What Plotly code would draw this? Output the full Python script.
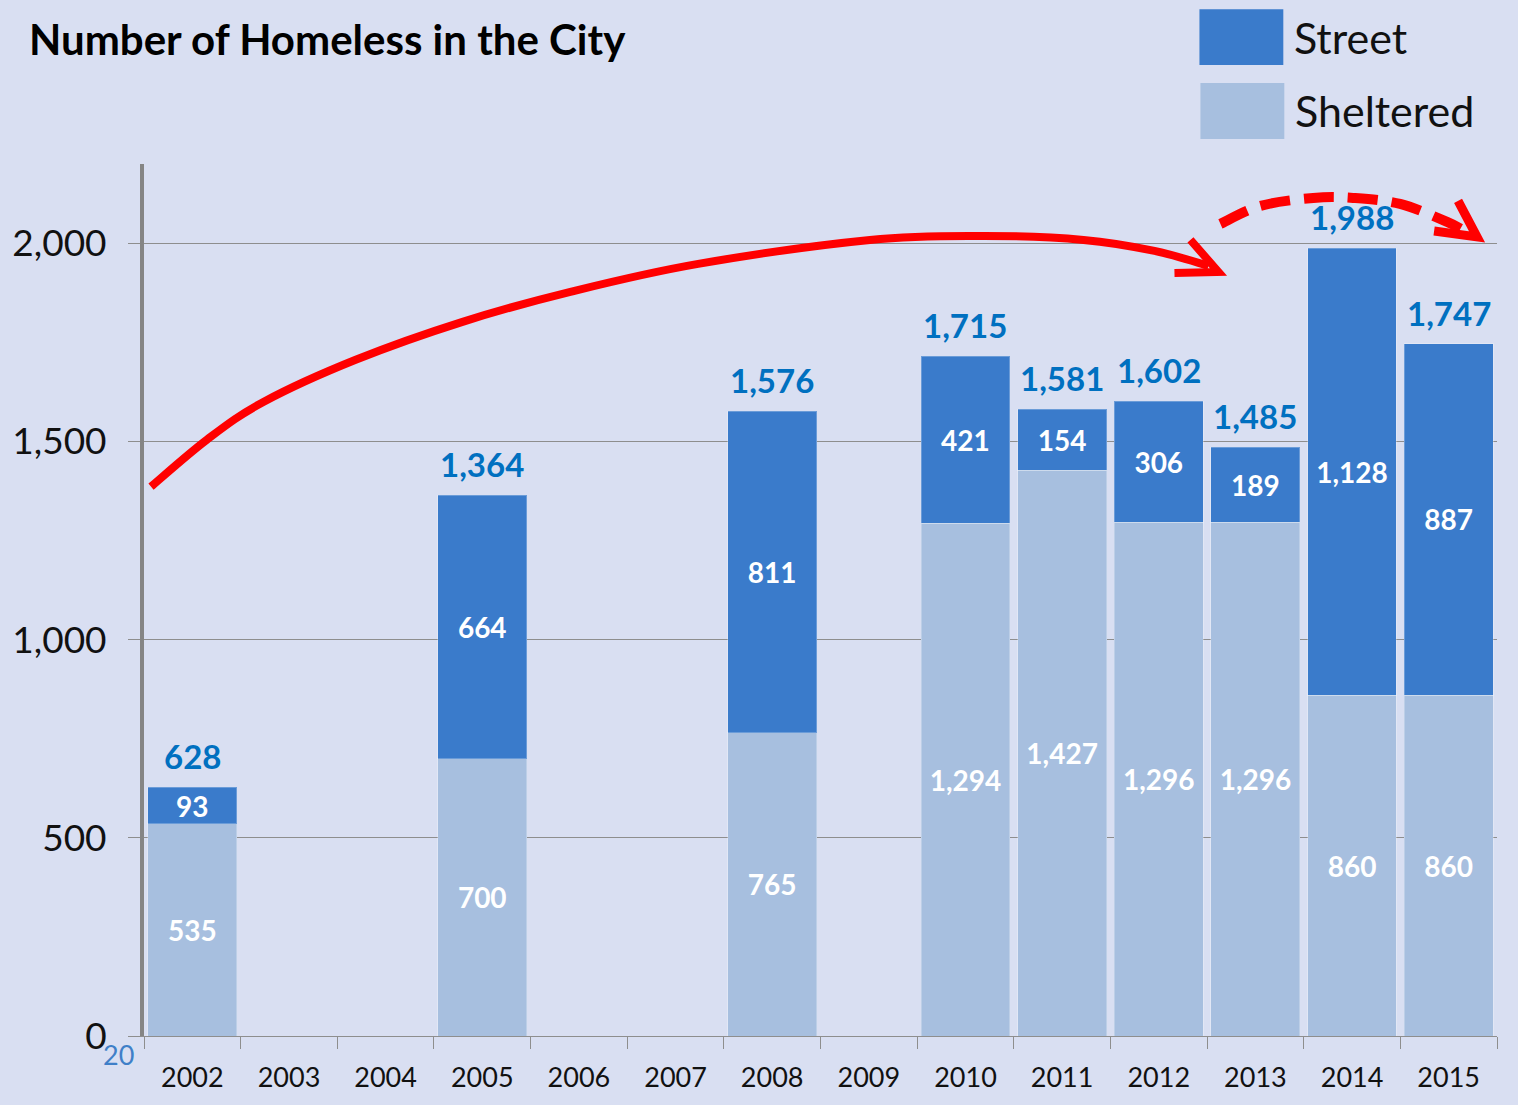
import plotly.graph_objects as go

# ---------------- data ----------------
years = ["2002", "2003", "2004", "2005", "2006", "2007", "2008",
         "2009", "2010", "2011", "2012", "2013", "2014", "2015"]
sheltered = [535, None, None, 700, None, None, 765, None, 1294, 1427, 1296, 1296, 860, 860]
street = [93, None, None, 664, None, None, 811, None, 421, 154, 306, 189, 1128, 887]
y_ticks = [0, 500, 1000, 1500, 2000]

# ---------------- styles ----------------
BG = "#D9DFF2"
STREET_C = "#3A7BCB"
SHELT_C = "#A7BFDF"
TOTAL_C = "#0070C0"
GRID_C = "#8E8E8E"
FONT = "Lato, 'Open Sans', sans-serif"

W, H = 1518, 1105
L, R, T, B = 142, 21, 164, 68
PW, PH = W - L - R, H - T - B


def px(x):
    return (x - L) / PW


def py(y):
    return (H - B - y) / PH


def smooth_path(pts):
    P = [(px(x), py(y)) for x, y in pts]
    d = f"M {P[0][0]:.5f},{P[0][1]:.5f}"
    for i in range(len(P) - 1):
        p0 = P[i - 1] if i > 0 else P[i]
        p1, p2 = P[i], P[i + 1]
        p3 = P[i + 2] if i + 2 < len(P) else P[i + 1]
        c1 = (p1[0] + (p2[0] - p0[0]) / 6, p1[1] + (p2[1] - p0[1]) / 6)
        c2 = (p2[0] - (p3[0] - p1[0]) / 6, p2[1] - (p3[1] - p1[1]) / 6)
        d += f" C {c1[0]:.5f},{c1[1]:.5f} {c2[0]:.5f},{c2[1]:.5f} {p2[0]:.5f},{p2[1]:.5f}"
    return d


def poly_path(pts):
    P = [(px(x), py(y)) for x, y in pts]
    return "M " + " L ".join(f"{a:.5f},{b:.5f}" for a, b in P)


bar_text_font = dict(color="white", size=28, family=FONT, weight="bold")

fig = go.Figure()
fig.add_trace(go.Bar(
    name="Sheltered", x=years, y=sheltered,
    marker=dict(color=SHELT_C, line=dict(color="rgba(255,255,255,0.25)", width=1)),
    text=[f"{v:,}" if v is not None else "" for v in sheltered],
    textposition="inside", insidetextanchor="middle", constraintext="none", textangle=0,
    textfont=bar_text_font, showlegend=False,
))
fig.add_trace(go.Bar(
    name="Street", x=years, y=street,
    marker=dict(color=STREET_C, line=dict(color="rgba(255,255,255,0.25)", width=1)),
    text=[f"{v:,}" if v is not None else "" for v in street],
    textposition="inside", insidetextanchor="middle", constraintext="none", textangle=0,
    textfont=bar_text_font, showlegend=False,
))

annotations = []
for i, (s, t) in enumerate(zip(sheltered, street)):
    if s is None or t is None:
        continue
    annotations.append(dict(
        x=i, y=s + t, xref="x", yref="y", text=f"{s + t:,}",
        showarrow=False, yanchor="bottom", yshift=9,
        font=dict(color=TOTAL_C, size=33, family=FONT, weight="bold"),
    ))

# manual legend (large swatches)
shapes = [
    dict(type="rect", xref="paper", yref="paper", x0=px(1199), x1=px(1283),
         y0=py(65), y1=py(9), fillcolor=STREET_C, line=dict(width=0)),
    dict(type="rect", xref="paper", yref="paper", x0=px(1200), x1=px(1284),
         y0=py(139), y1=py(83), fillcolor=SHELT_C, line=dict(width=0)),
]
annotations += [
    dict(xref="paper", yref="paper", x=px(1292), y=py(37), xanchor="left", yanchor="middle",
         text="Street", showarrow=False, font=dict(size=43, color="#111", family=FONT)),
    dict(xref="paper", yref="paper", x=px(1293), y=py(110), xanchor="left", yanchor="middle",
         text="Sheltered", showarrow=False, font=dict(size=43, color="#111", family=FONT)),
    dict(xref="paper", yref="paper", x=px(116), y=py(1056), xanchor="center", yanchor="middle",
         text="20", showarrow=False, font=dict(size=27, color="#3F7FC8", family=FONT)),
]

# red arrows (decoration)
solid_pts = [(149, 487), (205, 440), (262, 402), (354, 360), (461, 322), (569, 292),
             (697, 264), (869, 240), (983, 236), (1083, 240), (1154, 251), (1208, 266)]
shapes.append(dict(type="path", xref="paper", yref="paper", path=smooth_path(solid_pts),
                   line=dict(color="#FF0000", width=8)))
shapes.append(dict(type="path", xref="paper", yref="paper",
                   path=poly_path([(1190, 240), (1218, 272), (1174, 273)]),
                   line=dict(color="#FF0000", width=8)))
dash_pts = [(1220, 224), (1260, 206), (1313, 198), (1353, 198), (1400, 204), (1447, 222), (1470, 234)]
shapes.append(dict(type="path", xref="paper", yref="paper", path=smooth_path(dash_pts),
                   line=dict(color="#FF0000", width=10, dash="30px,14px")))
shapes.append(dict(type="path", xref="paper", yref="paper",
                   path=poly_path([(1458, 201), (1477, 237), (1434, 231)]),
                   line=dict(color="#FF0000", width=9)))

fig.update_layout(
    width=W, height=H,
    margin=dict(l=L, r=R, t=T, b=B, pad=0),
    paper_bgcolor=BG, plot_bgcolor=BG,
    barmode="stack", bargap=0.08,
    font=dict(family=FONT, color="#111"),
    title=dict(text="<b>Number of Homeless in the City</b>", x=29 / W, xanchor="left",
               y=1 - 40 / H, yanchor="middle", font=dict(size=42, color="#000", family=FONT)),
    annotations=annotations, shapes=shapes,
    xaxis=dict(type="category", range=[-0.5, len(years) - 0.5], tickson="boundaries",
               ticks="outside", ticklen=12,
               tickcolor=GRID_C, showline=True, linecolor=GRID_C, linewidth=1,
               showgrid=False, tickfont=dict(size=27, color="#111"), ticklabelstandoff=18),
    yaxis=dict(range=[0, 2200], tickvals=y_ticks, tickformat=",", showgrid=True,
               gridcolor=GRID_C, gridwidth=1, zeroline=False, showline=True,
               linecolor="#858585", linewidth=4, ticks="outside", ticklen=12,
               tickcolor=GRID_C, tickfont=dict(size=37, color="#111"),
               ticklabelstandoff=14),
)

fig.write_html("out.html", config={"displayModeBar": False},
               post_script="document.body.style.margin='0';")
